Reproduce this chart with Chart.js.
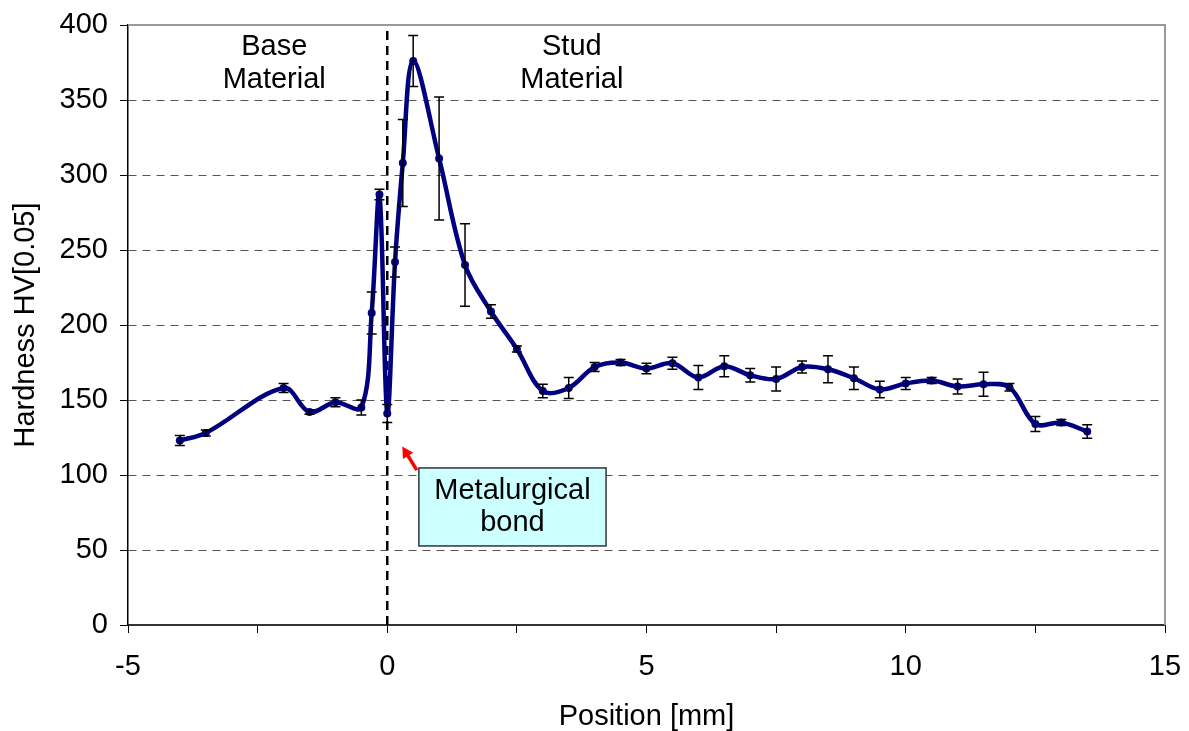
<!DOCTYPE html>
<html><head><meta charset="utf-8">
<script src="https://cdn.jsdelivr.net/npm/chart.js@4.4.0/dist/chart.umd.min.js"></script>
<style>html,body{margin:0;padding:0;background:#fff;}#wrap{width:1189px;height:731px;position:relative;}</style>
</head><body><div id="wrap"><canvas id="c"></canvas></div>
<script>
// ---- data ----
const positions = [-4, -3.5, -2, -1.5, -1, -0.5, -0.3, -0.15, 0, 0.15, 0.3, 0.5, 1, 1.5, 2, 2.5, 3, 3.5, 4, 4.5, 5, 5.5, 6, 6.5, 7, 7.5, 8, 8.5, 9, 9.5, 10, 10.5, 11, 11.5, 12, 12.5, 13, 13.5];
const hardness  = [123, 128, 158, 142, 148.5, 145, 208, 287, 141, 242, 308, 376, 311, 240, 209, 184, 156, 158, 172, 175, 171, 174.5, 165, 172.5, 166.5, 164, 172, 170.5, 164.5, 157, 161, 163, 159, 160.5, 158.5, 134, 135, 129];
const errors    = [3.3, 2, 3, 1.5, 3, 5, 14, 3.5, 6, 10, 29, 17, 41, 27.5, 4.5, 2, 4.5, 7, 3, 2, 3.5, 4, 8, 7, 4.5, 8, 4, 9, 7.5, 5.5, 4, 2, 5, 8, 2.5, 5, 2, 4.5];
const xTickLabels = ['-5', '0', '5', '10', '15'];
const yTickLabels = ['0', '50', '100', '150', '200', '250', '300', '350', '400'];
const bondLine = [0, 400];

const FONT = "'Liberation Sans', Arial, sans-serif";
const FS = 29;

const annotations = {
  regions: [
    {lines: ['Base', 'Material'], x: -2.18, y: 385.2, dy: 22},
    {lines: ['Stud', 'Material'], x: 3.56, y: 385.2, dy: 22}
  ],
  box: {x0: 0.61, x1: 4.22, y0: 104.7, y1: 52.7, lines: ['Metalurgical', 'bond']},
  arrow: {fromX: 0.57, fromY: 103.3, toX: 0.29, toY: 119}
};

const errorBars = {
  id: 'errorBars',
  afterDatasetsDraw(chart) {
    const {ctx, scales: {x, y}} = chart;
    ctx.save();
    ctx.strokeStyle = '#000';
    ctx.lineWidth = 1.5;
    positions.forEach((p, i) => {
      const px = x.getPixelForValue(p);
      const t = y.getPixelForValue(hardness[i] + errors[i]);
      const b = y.getPixelForValue(hardness[i] - errors[i]);
      ctx.beginPath();
      ctx.moveTo(px, t); ctx.lineTo(px, b);
      ctx.moveTo(px - 5, t); ctx.lineTo(px + 5, t);
      ctx.moveTo(px - 5, b); ctx.lineTo(px + 5, b);
      ctx.stroke();
    });
    ctx.restore();
  }
};

const frame = {
  id: 'frame',
  beforeDatasetsDraw(chart) {
    const {ctx, chartArea: a} = chart;
    ctx.save();
    ctx.strokeStyle = '#999';
    ctx.lineWidth = 2;
    ctx.beginPath();
    ctx.moveTo(a.left, a.top); ctx.lineTo(a.right, a.top); ctx.lineTo(a.right, a.bottom);
    ctx.stroke();
    ctx.restore();
  }
};

const notes = {
  id: 'notes',
  afterDraw(chart) {
    const {ctx, scales: {x, y}} = chart;
    ctx.save();
    ctx.fillStyle = '#000';
    ctx.font = FS + 'px ' + FONT;
    ctx.textAlign = 'center';
    ctx.textBaseline = 'middle';
    annotations.regions.forEach(r => {
      r.lines.forEach((l, k) => {
        ctx.fillText(l, x.getPixelForValue(r.x), y.getPixelForValue(r.y - k * r.dy));
      });
    });
    const bx = annotations.box;
    const X0 = x.getPixelForValue(bx.x0), X1 = x.getPixelForValue(bx.x1);
    const Y0 = y.getPixelForValue(bx.y0), Y1 = y.getPixelForValue(bx.y1);
    ctx.fillStyle = '#CCFFFF';
    ctx.fillRect(X0, Y0, X1 - X0, Y1 - Y0);
    ctx.strokeStyle = '#333';
    ctx.lineWidth = 1.5;
    ctx.strokeRect(X0, Y0, X1 - X0, Y1 - Y0);
    ctx.fillStyle = '#000';
    const cx = (X0 + X1) / 2, cy = (Y0 + Y1) / 2;
    ctx.fillText(bx.lines[0], cx, cy - 16);
    ctx.fillText(bx.lines[1], cx, cy + 16);
    const ar = annotations.arrow;
    const fx = x.getPixelForValue(ar.fromX), fy = y.getPixelForValue(ar.fromY);
    const tx = x.getPixelForValue(ar.toX), ty = y.getPixelForValue(ar.toY);
    const ang = Math.atan2(ty - fy, tx - fx);
    ctx.strokeStyle = '#FF0000';
    ctx.fillStyle = '#FF0000';
    ctx.lineWidth = 3.5;
    ctx.beginPath();
    ctx.moveTo(fx, fy);
    ctx.lineTo(tx - 7 * Math.cos(ang), ty - 7 * Math.sin(ang));
    ctx.stroke();
    ctx.beginPath();
    ctx.moveTo(tx, ty);
    ctx.lineTo(tx - 11 * Math.cos(ang) + 6 * Math.sin(ang), ty - 11 * Math.sin(ang) - 6 * Math.cos(ang));
    ctx.lineTo(tx - 11 * Math.cos(ang) - 6 * Math.sin(ang), ty - 11 * Math.sin(ang) + 6 * Math.cos(ang));
    ctx.closePath();
    ctx.fill();
    ctx.restore();
  }
};

new Chart(document.getElementById('c'), {
  type: 'scatter',
  data: {
    datasets: [
      {
        data: positions.map((p, i) => ({x: p, y: hardness[i]})),
        showLine: true,
        borderColor: '#000080',
        backgroundColor: '#000080',
        borderWidth: 4.5,
        pointRadius: 4,
        pointBorderWidth: 0,
        tension: 0.35,
        order: 1
      },
      {
        data: bondLine.map(v => ({x: 0, y: v})),
        showLine: true,
        borderColor: '#000',
        borderWidth: 2.5,
        borderDash: [9, 6],
        pointRadius: 0,
        order: 2
      }
    ]
  },
  options: {
    responsive: true,
    maintainAspectRatio: false,
    animation: false,
    events: [],
    layout: {padding: {top: 25, right: 24, left: 0, bottom: 0}},
    plugins: {legend: {display: false}, tooltip: {enabled: false}},
    scales: {
      x: {
        type: 'linear', min: -5, max: 15,
        afterFit(s) { s.height = 106; s.paddingLeft = 0; s.paddingRight = 0; },
        ticks: {
          stepSize: 2.5,
          autoSkip: false,
          maxRotation: 0,
          padding: 17,
          color: '#000',
          font: {family: FONT, size: FS},
          callback: (v) => {
            const i = xTickLabels.indexOf(String(v));
            return i >= 0 ? xTickLabels[i] : '';
          }
        },
        grid: {drawOnChartArea: false, drawTicks: true, tickLength: 8, tickColor: '#000'},
        border: {color: '#333', width: 2},
        title: {display: true, text: 'Position [mm]', color: '#000', font: {family: FONT, size: FS, lineHeight: 1.0}, padding: {top: 0, bottom: 0}}
      },
      y: {
        min: 0, max: 400,
        afterFit(s) { s.width = 128; s.paddingTop = 0; s.paddingBottom = 0; },
        ticks: {
          stepSize: 50,
          padding: 12,
          color: '#000',
          font: {family: FONT, size: FS},
          callback: (v) => {
            const i = yTickLabels.indexOf(String(v));
            return i >= 0 ? yTickLabels[i] : '';
          }
        },
        grid: {
          color: (c) => (c.tick && (c.tick.value === 0 || c.tick.value === 400)) ? 'rgba(0,0,0,0)' : '#555',
          lineWidth: 1,
          tickLength: 8,
          tickColor: '#000'
        },
        border: {color: '#000', width: 1.5, dash: [8, 6]},
        title: {display: true, text: 'Hardness HV[0.05]', color: '#000', font: {family: FONT, size: FS}, padding: {top: 9, bottom: 0}}
      }
    }
  },
  plugins: [frame, errorBars, notes]
});
</script>
</body></html>
